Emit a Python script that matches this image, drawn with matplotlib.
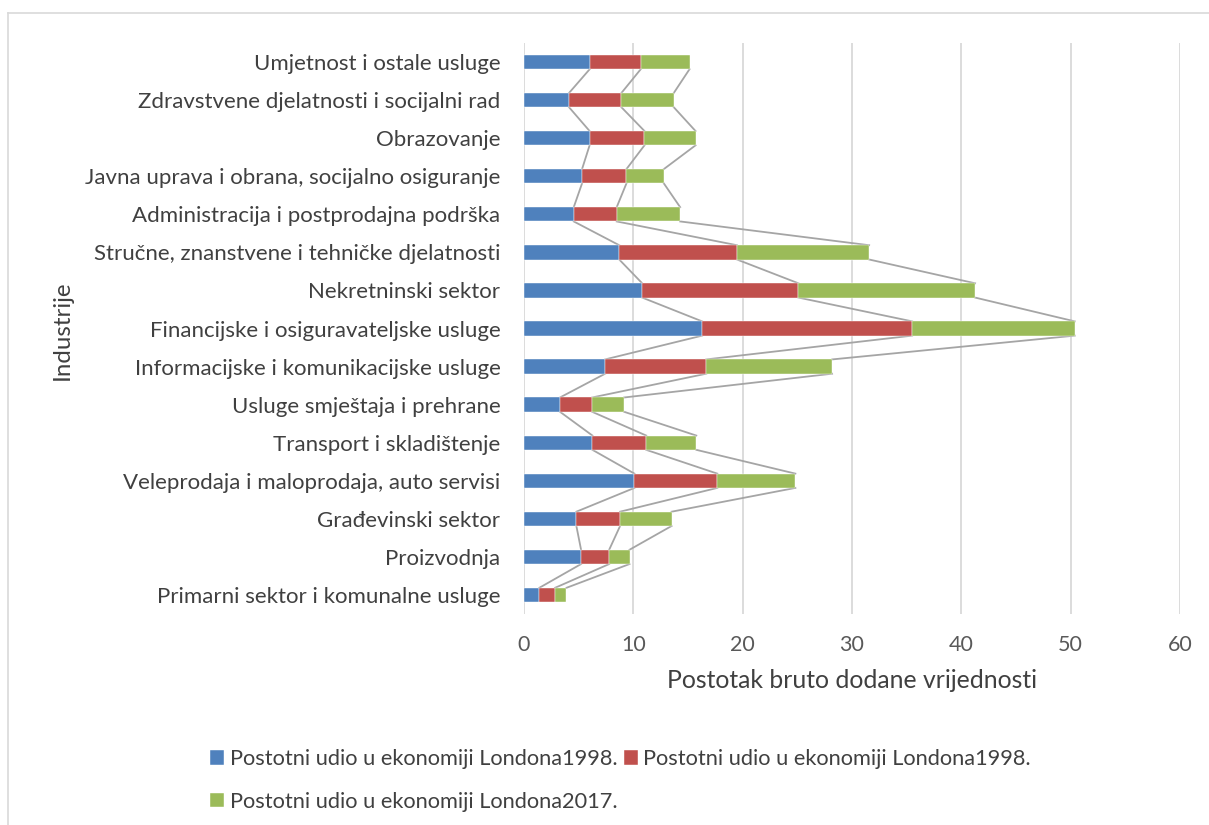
import numpy as np
import matplotlib
matplotlib.use("Agg")
import matplotlib.pyplot as plt
from matplotlib.lines import Line2D

plt.rcParams['font.family'] = ['Lato', 'DejaVu Sans']

# categories, bottom to top
industries = [
    "Primarni sektor i komunalne usluge",
    "Proizvodnja",
    "Građevinski sektor",
    "Veleprodaja i maloprodaja, auto servisi",
    "Transport i skladištenje",
    "Usluge smještaja i prehrane",
    "Informacijske i komunikacijske usluge",
    "Financijske i osiguravateljske usluge",
    "Nekretninski sektor",
    "Stručne, znanstvene i tehničke djelatnosti",
    "Administracija i postprodajna podrška",
    "Javna uprava i obrana, socijalno osiguranje",
    "Obrazovanje",
    "Zdravstvene djelatnosti i socijalni rad",
    "Umjetnost i ostale usluge",
]

share_1998_a = [1.40, 5.22, 4.79, 10.10, 6.26, 3.29, 7.42, 16.29, 10.81, 8.71, 4.55, 5.31, 6.00, 4.12, 6.01]
share_1998_b = [1.44, 2.57, 4.00, 7.58, 4.92, 2.94, 9.25, 19.21, 14.29, 10.77, 3.93, 4.06, 5.02, 4.79, 4.67]
share_2017 = [1.04, 1.86, 4.71, 7.14, 4.58, 2.92, 11.51, 14.87, 16.16, 12.09, 5.80, 3.42, 4.67, 4.79, 4.46]

series_names = ["Postotni udio u ekonomiji Londona1998.",
                "Postotni udio u ekonomiji Londona1998.",
                "Postotni udio u ekonomiji Londona2017."]
colors = ["#4F81BD", "#C0504D", "#9BBB59"]

text_col = "#404040"
tick_col = "#595959"

fig = plt.figure(figsize=(12.09, 8.25), dpi=100)
ax = fig.add_axes([524 / 1209, 1 - 614 / 825, 656 / 1209, 571 / 825])

y = np.arange(len(industries))
h = 0.375
left = np.zeros(len(industries))
handles = []
for vals, name, c in zip([share_1998_a, share_1998_b, share_2017], series_names, colors):
    vals = np.array(vals)
    b = ax.barh(y, vals, left=left, height=h, color=c, label=name, zorder=3,
                edgecolor="white", linewidth=0.3)
    handles.append(b)
    ends = left + vals
    # series lines between neighbouring bars
    for i in range(len(y) - 1):
        ax.plot([ends[i], ends[i + 1]], [y[i] + h / 2, y[i + 1] - h / 2],
                color="#A5A5A5", lw=1.3, zorder=2)
    left = ends

ax.set_xlim(0, 60)
ax.set_ylim(-0.5, len(industries) - 0.5)
ax.set_xticks(np.arange(0, 61, 10))
ax.set_yticks(y)
ax.set_yticklabels(industries)
ax.grid(axis="x", color="#D9D9D9", lw=1.3, zorder=0)
ax.set_axisbelow(True)
for s in ax.spines.values():
    s.set_visible(False)
ax.tick_params(axis="both", length=0, colors=tick_col)
ax.tick_params(axis="y", pad=17, labelsize=16, labelcolor=text_col)
ax.tick_params(axis="x", pad=15, labelsize=15.5)
ax.set_xlabel("Postotak bruto dodane vrijednosti", fontsize=17.8, color=text_col, labelpad=10)

fig.text(62 / 1209, 1 - 330 / 825, "Industrije", rotation=90, fontsize=17.3,
         color=text_col, ha="center", va="center")

# order so that the legend fills row by row like the original
order = [0, 2, 1]
leg = fig.legend([handles[i] for i in order], [series_names[i] for i in order],
                 loc="upper left", bbox_to_anchor=(199 / 1209, 1 - 738 / 825),
                 ncol=2, frameon=False, fontsize=15.7, handlelength=0.65, handleheight=0.65,
                 handletextpad=0.25, columnspacing=0.3, labelspacing=1.05, borderpad=0)
for t in leg.get_texts():
    t.set_color(text_col)

# outer chart border
fig.add_artist(Line2D([8 / 1209, 1], [1 - 13 / 825, 1 - 13 / 825], color="#D9D9D9", lw=1.2,
                      transform=fig.transFigure))
fig.add_artist(Line2D([8 / 1209, 8 / 1209], [0, 1 - 13 / 825], color="#D9D9D9", lw=1.2,
                      transform=fig.transFigure))

fig.savefig("out.png", dpi=100)
